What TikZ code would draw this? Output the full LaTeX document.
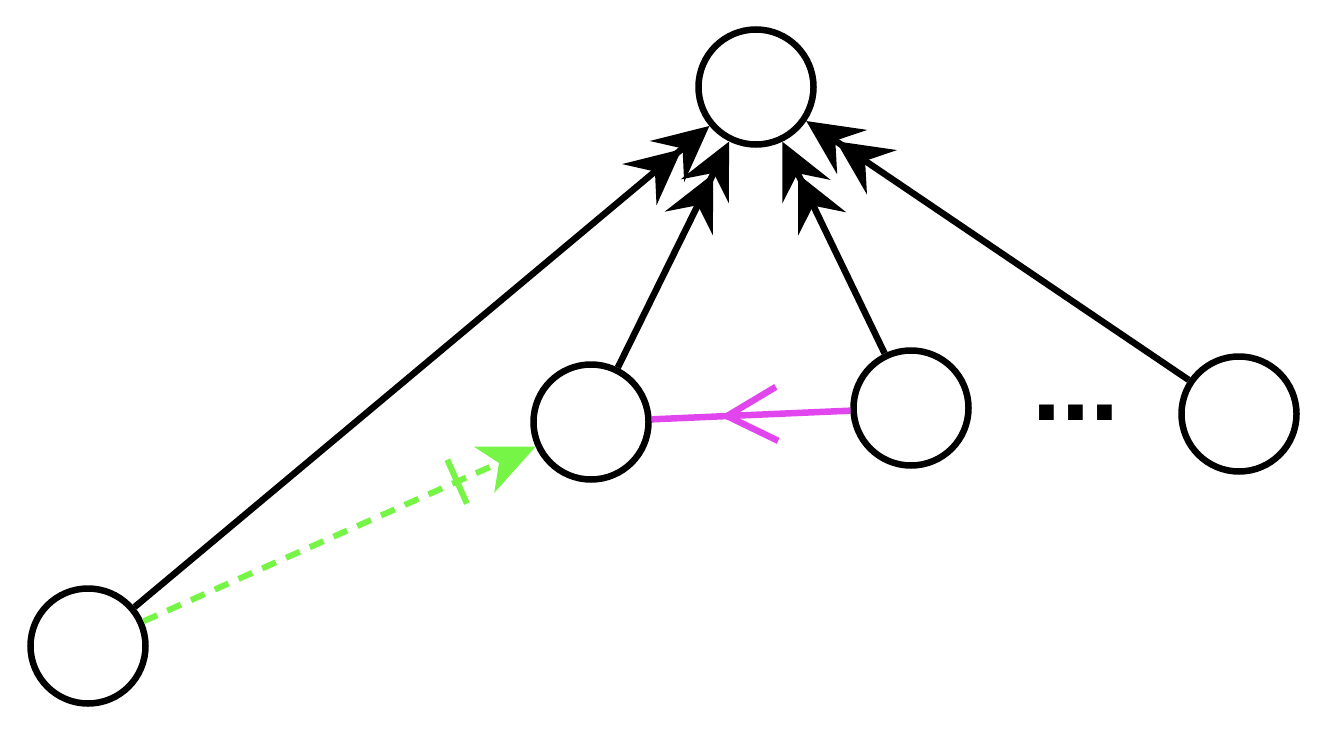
\documentclass[tikz,border=0pt]{standalone}
\usepackage{fontspec}
\newfontfamily\dotsfont{Liberation Sans}
\usetikzlibrary{arrows.meta,decorations.markings}
\definecolor{ggreen}{RGB}{118,245,70}
\definecolor{mmag}{RGB}{225,70,238}
\begin{document}
\begin{tikzpicture}[x=1pt,y=-1pt,
  vert/.style={circle,draw=black,line width=6.5pt,minimum size=115pt,inner sep=0pt,fill=white},
  edge/.style={line width=6.5pt,-{Stealth[length=55pt,width=53pt,inset=20pt,sep=-19pt] Stealth[length=55pt,width=53pt,inset=20pt]}},
  greenedge/.style={line width=6pt,ggreen,dash pattern=on 15pt off 11pt,
    -{Stealth[length=56pt,width=50pt,inset=16pt]},
    decoration={markings,mark=at position 0.80 with {\draw[-,solid,line width=6pt] (0,-24pt) -- (0,24pt);}},
    postaction=decorate},
  magedge/.style={line width=6.5pt,mmag,
    decoration={markings,mark=at position 0.655 with {\arrow{Straight Barb[length=50pt,width=54pt,line width=6.5pt]}}},
    postaction=decorate}
]
\useasboundingbox (0,0) rectangle (1328,733);
\node[vert] (top) at (756,87) {};
\node[vert] (a) at (88,646) {};
\node[vert] (b) at (591,422) {};
\node[vert] (c) at (911,408) {};
\node[vert] (d) at (1239,414) {};
\node[font=\dotsfont\bfseries\fontsize{104}{104}\selectfont,anchor=base,inner sep=0pt] (dots) at (1076,420) {...};
\draw[edge] (a) -- (top);
\draw[edge] (b) -- (top);
\draw[edge] (c) -- (top);
\draw[edge] (d) -- (top);
\draw[greenedge] (a) -- (b);
\draw[magedge] (c) -- (b);
\end{tikzpicture}
\end{document}
